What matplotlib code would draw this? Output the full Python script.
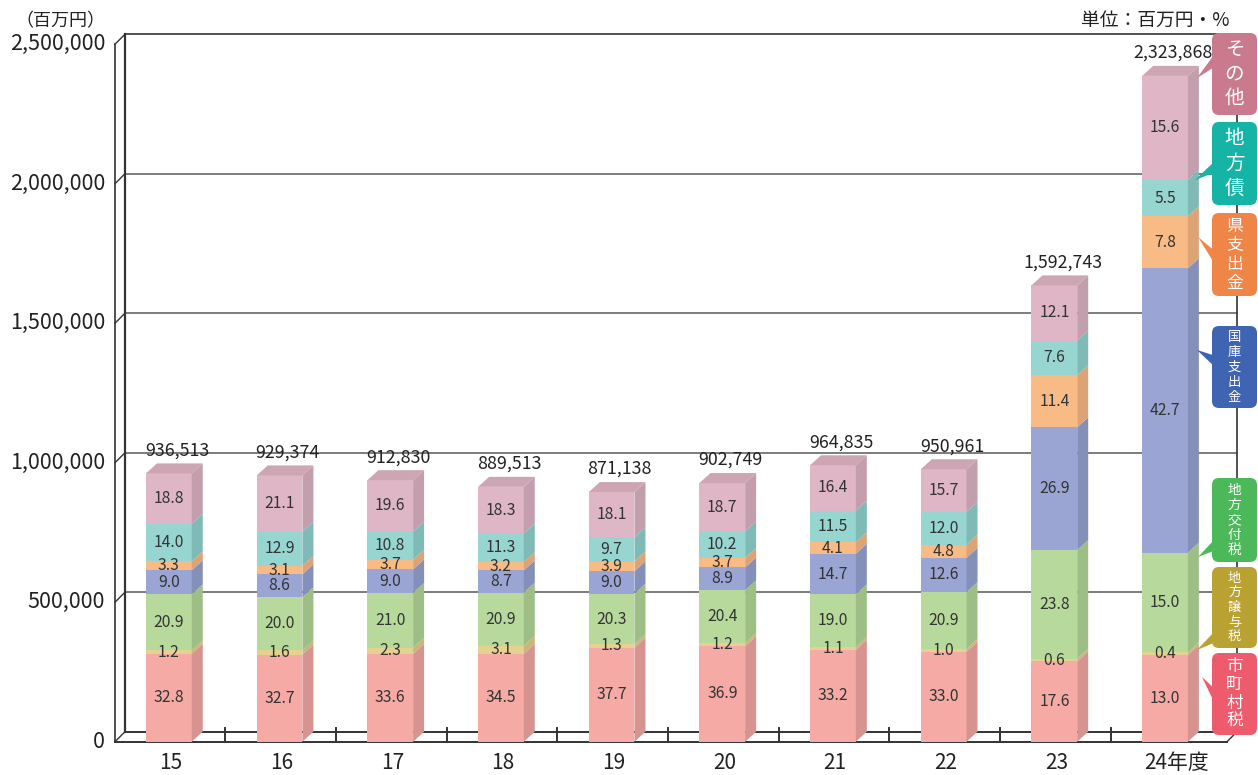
import matplotlib
matplotlib.use('Agg')
import matplotlib.pyplot as plt
import numpy as np
from matplotlib.patches import Polygon, FancyBboxPatch
from matplotlib.transforms import IdentityTransform

plt.rcParams['font.family'] = ['Noto Sans CJK JP', 'DejaVu Sans']

###############################################################################
# data (total in 百万円, shares in %)
###############################################################################
years = ['15', '16', '17', '18', '19', '20', '21', '22', '23', '24年度']
totals = [936513, 929374, 912830, 889513, 871138, 902749, 964835, 950961, 1592743, 2323868]

shichoson_zei = [32.8, 32.7, 33.6, 34.5, 37.7, 36.9, 33.2, 33.0, 17.6, 13.0]
chiho_joyozei = [1.2, 1.6, 2.3, 3.1, 1.3, 1.2, 1.1, 1.0, 0.6, 0.4]
chiho_kofuzei = [20.9, 20.0, 21.0, 20.9, 20.3, 20.4, 19.0, 20.9, 23.8, 15.0]
kokko_shishutsu = [9.0, 8.6, 9.0, 8.7, 9.0, 8.9, 14.7, 12.6, 26.9, 42.7]
ken_shishutsu = [3.3, 3.1, 3.7, 3.2, 3.9, 3.7, 4.1, 4.8, 11.4, 7.8]
chihosai = [14.0, 12.9, 10.8, 11.3, 9.7, 10.2, 11.5, 12.0, 7.6, 5.5]
sonota = [18.8, 21.1, 19.6, 18.3, 18.1, 18.7, 16.4, 15.7, 12.1, 15.6]

series_names = ['市町村税', '地方譲与税', '地方交付税', '国庫支出金', '県支出金', '地方債', 'その他']
series = [shichoson_zei, chiho_joyozei, chiho_kofuzei, kokko_shishutsu,
          ken_shishutsu, chihosai, sonota]

y_ticks = [0, 500000, 1000000, 1500000, 2000000, 2500000]

###############################################################################
# styles
###############################################################################
front_colors = ['#F5AAA5', '#E6D290', '#B7D99B', '#9AA5D3', '#F9BB85', '#97D5D0', '#DEB6C5']
side_colors = ['#D69390', '#C8B67A', '#9DBF85', '#8490BA', '#DDA374', '#80BAB6', '#C39EAC']
top_color = '#CDA5B3'
tag_colors = ['#EE5B6C', '#B9A231', '#4BB85A', '#3E64B2', '#F08548', '#16B3A7', '#C97B8D']

# layout in output pixels (measured from the top-left corner)
W, H = 1258, 775
BASE = 741.7          # value 0 on the front edge
BAR_PX = 286.5 / 1e6  # pixels per unit for the columns
WALL_PX = 279.0 / 1e6 # pixels per unit for the wall / axis labels
X0, STEP = 168.9, 110.68
BAR_W = 45.7 / STEP
DEPTH_X = 11 / STEP
DEPTH_Y_BAR = 10 / BAR_PX
DEPTH_Y_WALL = 10 / WALL_PX
WALL_DX = 10 / STEP

fig = plt.figure(figsize=(W / 100, H / 100), dpi=100)
axw = fig.add_axes([0, 0, 1, 1])
ax = fig.add_axes([0, 0, 1, 1])
for a in (axw, ax):
    a.set_xlim(-X0 / STEP, (W - X0) / STEP)
    a.axis('off')
ax.patch.set_alpha(0)
axw.set_ylim(-(H - BASE) / WALL_PX, BASE / WALL_PX)
ax.set_ylim(-(H - BASE) / BAR_PX, BASE / BAR_PX)

###############################################################################
# back wall, floor and gridlines
###############################################################################
xl = (115 - X0) / STEP
xr = (1227 - X0) / STEP
top = y_ticks[-1]
wall = '#333333'

for v in y_ticks[1:-1]:
    axw.plot([xl + WALL_DX, xr + WALL_DX], [v + DEPTH_Y_WALL] * 2, color='#666666', lw=1.2)
for v in y_ticks:
    axw.plot([xl, xl + WALL_DX], [v, v + DEPTH_Y_WALL], color=wall, lw=1)
    axw.text(xl - 10 / STEP, v, f'{v:,}', ha='right', va='center', fontsize=15.5, color='#222222')

axw.plot([xl + WALL_DX, xr + WALL_DX], [top + DEPTH_Y_WALL] * 2, color=wall, lw=1.2)
axw.plot([xl, xl], [0, top], color=wall, lw=1.2)
axw.plot([xl + WALL_DX] * 2, [DEPTH_Y_WALL, top + DEPTH_Y_WALL], color=wall, lw=1.6)
axw.plot([xr + WALL_DX] * 2, [DEPTH_Y_WALL, top + DEPTH_Y_WALL], color=wall, lw=1.2)
axw.plot([xl, xr], [0, 0], color=wall, lw=1.4)
axw.plot([xl + WALL_DX, xr + WALL_DX], [DEPTH_Y_WALL] * 2, color=wall, lw=1.4)
axw.plot([xr, xr + WALL_DX], [0, DEPTH_Y_WALL], color=wall, lw=1)

# category separators on the floor
for i in range(len(years) - 1):
    axw.plot([i + 0.51] * 2, [0, 1.4 * DEPTH_Y_WALL], color=wall, lw=1.4)

# year labels
for i, lab in enumerate(years):
    off = 0.1 if len(lab) > 2 else 0.02
    axw.text(i + off, -(763 - BASE) / WALL_PX, lab, ha='center', va='center',
             fontsize=15, color='#222222')

###############################################################################
# 3D-looking stacked columns
###############################################################################
x = np.arange(len(years))
bottom = np.zeros(len(years))
for k, share in enumerate(series):
    h = np.array(totals) * np.array(share) / 100.0
    ax.bar(x, h, width=BAR_W, bottom=bottom, color=front_colors[k], linewidth=0, zorder=2)
    for i in range(len(years)):
        xr_i = x[i] + BAR_W / 2
        y0, y1 = bottom[i], bottom[i] + h[i]
        ax.add_patch(Polygon([(xr_i, y0), (xr_i + DEPTH_X, y0 + DEPTH_Y_BAR),
                              (xr_i + DEPTH_X, y1 + DEPTH_Y_BAR), (xr_i, y1)],
                             closed=True, facecolor=side_colors[k], linewidth=0, zorder=2))
        ax.text(x[i], (y0 + y1) / 2, f'{share[i]:.1f}', ha='center', va='center',
                fontsize=11.3, color='#333333', zorder=4)
    bottom = bottom + h

# top faces and totals
for i in range(len(years)):
    xl_i = x[i] - BAR_W / 2
    t = totals[i]
    ax.add_patch(Polygon([(xl_i, t), (xl_i + DEPTH_X, t + DEPTH_Y_BAR),
                          (xl_i + BAR_W + DEPTH_X, t + DEPTH_Y_BAR), (xl_i + BAR_W, t)],
                         closed=True, facecolor=top_color, linewidth=0, zorder=2))
    ax.text(x[i] + 0.75 * DEPTH_X, t + DEPTH_Y_BAR + 4 / BAR_PX,
            f'{t:,}', ha='center', va='bottom', fontsize=12.8, color='#222222', zorder=4)

###############################################################################
# titles
###############################################################################
fig.text(60 / W, 1 - 21 / H, '（百万円）', ha='center', va='center', fontsize=13, color='#222222')
fig.text(1230 / W, 1 - 20 / H, '単位：百万円・%', ha='right', va='center', fontsize=13.5, color='#222222')

###############################################################################
# series tags on the right (pixel layout)
###############################################################################
# (top, bottom, tip x, tip y, base y0, base y1) in pixels from the top
tags = [
    (653, 735, 1202, 677, 690, 706),
    (567, 648, 1197, 650, 630, 642),
    (478, 562, 1198, 557, 538, 550),
    (326, 408, 1197, 350, 356, 368),
    (213, 296, 1198, 237, 252, 266),
    (122, 205, 1195, 180, 160, 172),
    (33, 115, 1197, 78, 52, 66),
]
px = IdentityTransform()
bx0, bx1 = 1212, 1257
for k, (t0, t1, tx, ty, b0, b1) in enumerate(tags):
    fig.add_artist(FancyBboxPatch((bx0, H - t1), bx1 - bx0, t1 - t0,
                                  boxstyle='round,pad=0,rounding_size=7',
                                  facecolor=tag_colors[k], edgecolor='none', transform=px))
    fig.add_artist(Polygon([(tx, H - ty), (bx0 + 4, H - b0), (bx0 + 4, H - b1)],
                           closed=True, facecolor=tag_colors[k], edgecolor='none', transform=px))
    name = series_names[k]
    n = len(name)
    step = (t1 - t0 - 8) / n
    size = min(step * 0.9, 19.5) * 0.72
    for j, ch in enumerate(name):
        fig.text((bx0 + bx1) / 2, H - (t0 + 4 + step * (j + 0.5)), ch, transform=px,
                 ha='center', va='center', fontsize=size, color='white')

fig.savefig('out.png', dpi=100)
